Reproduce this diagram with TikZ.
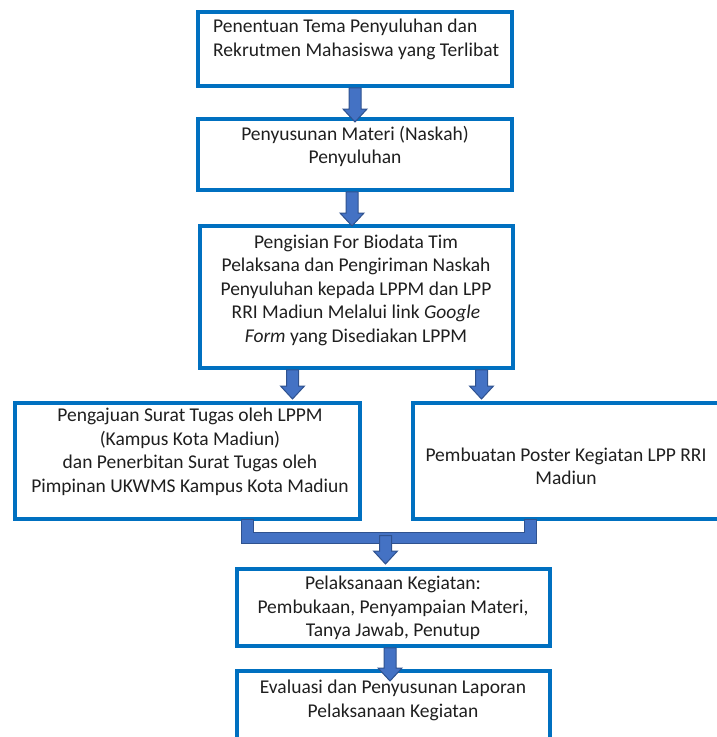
\documentclass[tikz,border=0pt]{standalone}
\usepackage{fontspec}
\setmainfont{Carlito}
\usetikzlibrary{calc}
\definecolor{boxblue}{RGB}{0,112,192}
\definecolor{arrfill}{RGB}{68,114,196}
\definecolor{arrline}{RGB}{47,82,143}
\tikzset{
  box/.style = {draw=boxblue, line width=3.5pt, inner sep=0pt, outer sep=0pt},
  txt/.style = {inner sep=0pt, align=center, text=black!88,
                font=\fontsize{19.5}{23.5}\selectfont},
  blk/.style = {fill=arrfill, draw=arrline, line width=1pt, line join=miter}
}
% block arrow: x, from, to
\newcommand\blockar[3]{%
  \draw[blk] let \p1=(#2), \p2=(#3) in
    (#1pt-6pt,\y1-1.75pt) -- (#1pt+6pt,\y1-1.75pt) -- (#1pt+6pt,\y2+13pt)
    -- (#1pt+12pt,\y2+13pt) -- (#1pt,\y2) -- (#1pt-12pt,\y2+13pt)
    -- (#1pt-6pt,\y2+13pt) -- cycle;}

\begin{document}
\begin{tikzpicture}[x=1pt, y=-1pt]
  \useasboundingbox (0,0) rectangle (717,737);
  \clip (0,0) rectangle (717,737);
  % boxes
  \node[box, minimum width=314pt, minimum height=74pt]  (b1) at (355,49) {};
  \node[box, minimum width=314pt, minimum height=71pt]  (b2) at (355,154.5) {};
  \node[box, minimum width=313pt, minimum height=142pt] (b3) at (356.5,297) {};
  \node[box, minimum width=345pt, minimum height=116pt] (b4) at (187.5,461) {};
  \node[box, minimum width=308pt, minimum height=116pt] (b5) at (567,461) {};
  \node[box, minimum width=313pt, minimum height=77pt]  (b6) at (393.5,607.5) {};
  \node[box, minimum width=313pt, minimum height=77pt]  (b7) at (393.5,709.5) {};
  % texts
  \node[txt, align=left, anchor=west] (t1) at (213,39.5)
    {Penentuan Tema Penyuluhan dan\\Rekrutmen Mahasiswa yang Terlibat};
  \node[txt] (t2) at (355,146.5) {Penyusunan Materi (Naskah)\\Penyuluhan};
  \node[txt] (t3) at (356,290)
    {Pengisian For Biodata Tim\\Pelaksana dan Pengiriman Naskah\\
     Penyuluhan kepada LPPM dan LPP\\RRI Madiun Melalui link \textit{Google}\\
     \textit{Form} yang Disediakan LPPM};
  \node[txt] (t4) at (190,452)
    {Pengajuan Surat Tugas oleh LPPM\\(Kampus Kota Madiun)\\
     dan Penerbitan Surat Tugas oleh\\Pimpinan UKWMS Kampus Kota Madiun};
  \node[txt] (t5) at (566,466.5) {Pembuatan Poster Kegiatan LPP RRI\\Madiun};
  \node[txt] (t6) at (393,608)
    {Pelaksanaan Kegiatan:\\Pembukaan, Penyampaian Materi,\\Tanya Jawab, Penutup};
  \node[txt] (t7) at (393,700.5)
    {Evaluasi dan Penyusunan Laporan\\Pelaksanaan Kegiatan};
  % arrows
  \blockar{355}{b1.south}{$(b2.north)+(0,3)$}
  \blockar{352}{b2.south}{b3.north}
  \blockar{292.5}{b3.south}{$(b4.north)+(0,-4)$}
  \blockar{481.5}{b3.south}{$(b5.north)+(0,-4)$}
  \draw[blk] (241,0 |- b4.south) -- (241,543) -- (536,543) -- (536,0 |- b5.south)
    -- (524,0 |- b5.south) -- (524,532) -- (253,532) -- (253,0 |- b4.south) -- cycle;
  \coordinate (mj) at (385.5,533.75);
  \blockar{385.5}{mj}{$(b6.north)+(0,-5)$}
  \blockar{390}{b6.south}{$(b7.north)+(0,10)$}
\end{tikzpicture}
\end{document}
